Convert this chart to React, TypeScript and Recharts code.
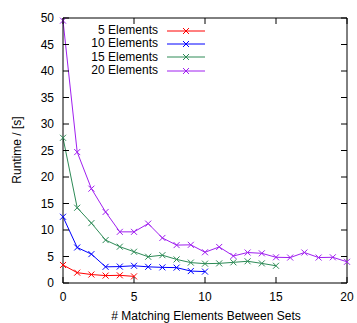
import React from "react";
import { LineChart, Line, XAxis, YAxis, Label } from "recharts";

const matching = [0, 1, 2, 3, 4, 5, 6, 7, 8, 9, 10, 11, 12, 13, 14, 15, 16, 17, 18, 19, 20];
const elements5 = [3.4, 1.95, 1.6, 1.4, 1.45, 1.25];
const elements10 = [12.5, 6.7, 5.45, 3.05, 3.1, 3.25, 3.05, 2.95, 2.9, 2.25, 2.15];
const elements15 = [27.4, 14.2, 11.3, 8.1, 6.85, 5.9, 4.95, 5.25, 4.45, 3.85, 3.65, 3.7, 3.9, 4.1, 3.7, 3.25];
const elements20 = [49.5, 24.7, 17.8, 13.4, 9.65, 9.65, 11.2, 8.5, 7.15, 7.2, 5.8, 6.8, 5.1, 5.75, 5.6, 4.85, 4.8, 5.75, 4.8, 4.85, 4.0];
const xTicks = [0, 5, 10, 15, 20];
const yTicks = [0, 5, 10, 15, 20, 25, 30, 35, 40, 45, 50];

const series = [
  { key: "e5", name: "5 Elements", color: "#ff0000", values: elements5 },
  { key: "e10", name: "10 Elements", color: "#0000ff", values: elements10 },
  { key: "e15", name: "15 Elements", color: "#2e8b57", values: elements15 },
  { key: "e20", name: "20 Elements", color: "#a020f0", values: elements20 },
];

const data = matching.map((m, i) => {
  const row: any = { m };
  series.forEach((s) => {
    if (i < s.values.length) row[s.key] = s.values[i];
  });
  return row;
});

const font = "'Liberation Sans', Arial, sans-serif";
const TICK = 6;
const GAP = 3; // tickMargin used on the labelled axes

const Cross = (props: any) => {
  const { cx, cy, stroke } = props;
  if (cx == null || cy == null) return null;
  const r = 3;
  return (
    <g stroke={stroke} strokeWidth={1}>
      <line x1={cx - r} y1={cy - r} x2={cx + r} y2={cy + r} />
      <line x1={cx - r} y1={cy + r} x2={cx + r} y2={cy - r} />
    </g>
  );
};

// inward ticks, gnuplot style
const BottomTick = (p: any) => {
  const axisY = p.y - TICK - GAP;
  return (
    <g>
      <line x1={p.x} y1={axisY} x2={p.x} y2={axisY - TICK} stroke="#000" />
      <text x={p.x} y={p.y} dy="0.71em" textAnchor="middle" fontSize={12} fontFamily={font} fill="#000">
        {p.payload.value}
      </text>
    </g>
  );
};

const LeftTick = (p: any) => {
  const axisX = p.x + TICK + GAP;
  return (
    <g>
      <line x1={axisX} y1={p.y} x2={axisX + TICK} y2={p.y} stroke="#000" />
      <text x={p.x} y={p.y} dy="0.355em" textAnchor="end" fontSize={12} fontFamily={font} fill="#000">
        {p.payload.value}
      </text>
    </g>
  );
};

const TopTick = (p: any) => {
  const axisY = p.y + TICK;
  return <line x1={p.x} y1={axisY} x2={p.x} y2={axisY + TICK} stroke="#000" />;
};

const RightTick = (p: any) => {
  const axisX = p.x - TICK;
  return <line x1={axisX} y1={p.y} x2={axisX - TICK} y2={p.y} stroke="#000" />;
};

const LegendBox = () => (
  <div style={{ position: "absolute", left: 58, top: 24, fontFamily: font, fontSize: 12, color: "#000" }}>
    {series.map((s) => (
      <div key={s.key} style={{ display: "flex", alignItems: "center", height: 13.3 }}>
        <div style={{ width: 100, textAlign: "right", lineHeight: "13px" }}>{s.name}</div>
        <svg width={46} height={10} style={{ marginLeft: 9 }}>
          <line x1={0} y1={5} x2={38} y2={5} stroke={s.color} strokeWidth={1} />
          <line x1={16} y1={2} x2={22} y2={8} stroke={s.color} />
          <line x1={16} y1={8} x2={22} y2={2} stroke={s.color} />
        </svg>
      </div>
    ))}
  </div>
);

export default function App() {
  const axisLine = { stroke: "#000", strokeWidth: 1 };
  return (
    <div style={{ position: "absolute", left: 0, top: 0, width: 357, height: 323, background: "#fff" }}>
      <LineChart
        width={357}
        height={323}
        data={data}
        margin={{ top: 17, right: 9, bottom: 0, left: 0 }}
      >
        <XAxis
          xAxisId="b"
          dataKey="m"
          type="number"
          domain={[0, 20]}
          ticks={xTicks}
          height={40}
          tickSize={TICK}
          tickMargin={GAP}
          tick={<BottomTick />}
          axisLine={axisLine}
          tickLine={false}
        >
          <Label
            content={() => (
              <text x={206} y={320} textAnchor="middle" fontSize={12} fontFamily={font} fill="#000">
                # Matching Elements Between Sets
              </text>
            )}
          />
        </XAxis>
        <XAxis
          xAxisId="t"
          orientation="top"
          type="number"
          domain={[0, 20]}
          ticks={xTicks}
          height={1}
          tickSize={TICK}
          tickMargin={0}
          tick={<TopTick />}
          axisLine={axisLine}
          tickLine={false}
          allowDataOverflow
        />
        <YAxis
          yAxisId="l"
          type="number"
          domain={[0, 50]}
          ticks={yTicks}
          width={63}
          tickSize={TICK}
          tickMargin={GAP}
          tick={<LeftTick />}
          axisLine={axisLine}
          tickLine={false}
          interval={0}
        >
          <Label
            content={() => (
              <text
                x={21}
                y={150}
                transform="rotate(-90 21 150)"
                textAnchor="middle"
                fontSize={12}
                fontFamily={font}
                fill="#000"
              >
                Runtime / [s]
              </text>
            )}
          />
        </YAxis>
        <YAxis
          yAxisId="r"
          orientation="right"
          type="number"
          domain={[0, 50]}
          ticks={yTicks}
          width={1}
          tickSize={TICK}
          tickMargin={0}
          tick={<RightTick />}
          axisLine={axisLine}
          tickLine={false}
          interval={0}
          allowDataOverflow
        />
        {series.map((s) => (
          <Line
            key={s.key}
            xAxisId="b"
            yAxisId="l"
            dataKey={s.key}
            name={s.name}
            stroke={s.color}
            strokeWidth={1}
            dot={<Cross />}
            activeDot={false}
            isAnimationActive={false}
            connectNulls={false}
          />
        ))}
      </LineChart>
      <LegendBox />
    </div>
  );
}
